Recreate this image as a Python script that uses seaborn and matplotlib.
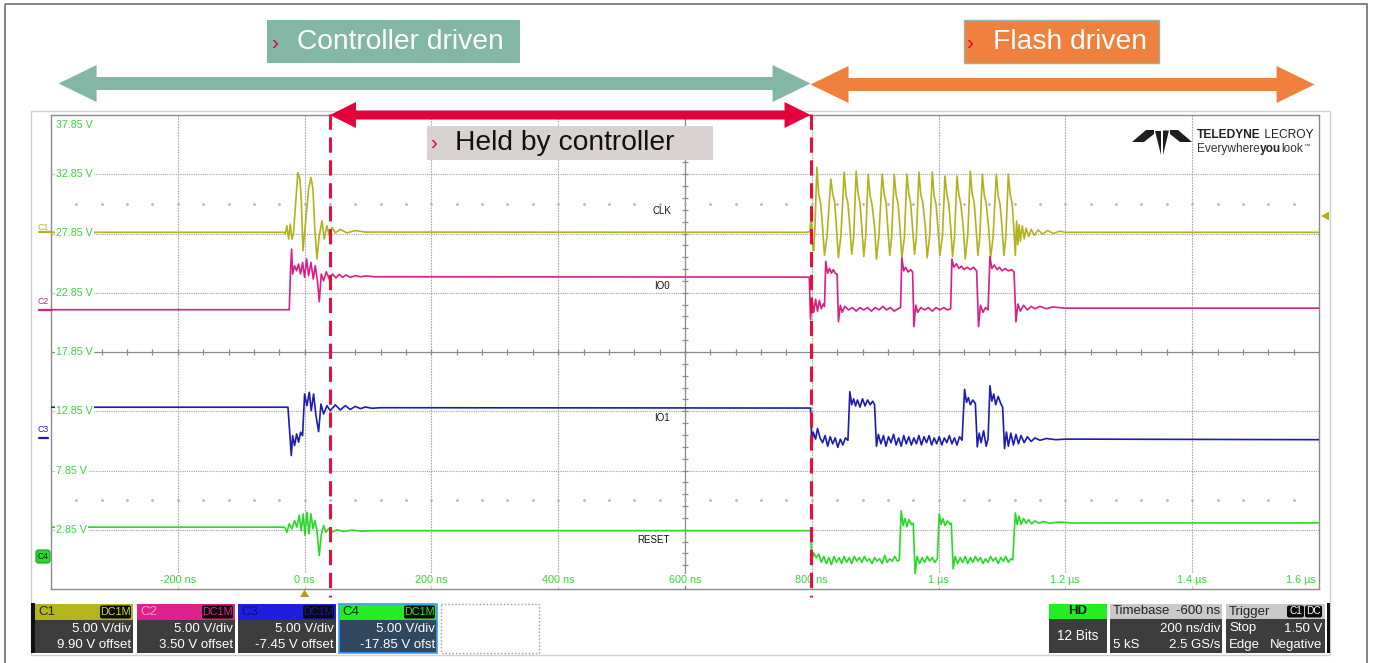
import numpy as np
import pandas as pd
import matplotlib
matplotlib.use("Agg")
import matplotlib.pyplot as plt
import seaborn as sns
from matplotlib.patches import Rectangle, Polygon, FancyBboxPatch

# ------------------------------------------------------------------ data
signals = ["CLK", "IO0", "IO1", "RESET"]
colors = {"CLK": "#b2b21e", "IO0": "#d81f86", "IO1": "#1c1cb0", "RESET": "#2ad82a"}

clk_pts = [(-400, 27.95), (-31, 27.95), (-30.5, 27.8), (-27.9, 28.5), (-25.3, 27.38), (-22.6, 28.64),
           (-20, 27.38), (-17.4, 27.94), (-13.7, 30.75), (-10.5, 33.0), (-7.4, 32.44), (-5.3, 30.75),
           (-2.6, 26.39), (1, 28.5), (6.3, 31.6), (10, 32.58), (13.2, 31.6), (15.8, 28.5), (19.5, 25.69),
           (23.1, 27.66), (27.4, 28.92), (31, 27.38), (35.3, 28.5), (39, 27.66), (43.2, 28.36), (48.4, 27.9),
           (56.3, 28.2), (66.8, 27.9), (80, 28.1), (95.8, 27.97), (790, 27.95), (797, 28.0), (799, 29.6),
           (801, 27.0), (803, 26.4), (805, 28.4), (808, 33.45),
           (811, 31.1), (814, 30.4), (817, 28.4), (820, 26.0), (824, 27.6), (830, 32.44),
           (833, 31.2), (836, 30.5), (839, 28.3), (842, 25.8), (846, 27.7), (851, 33.03),
           (854, 31.1), (857, 30.4), (860, 28.4), (863, 26.1), (866, 27.5), (870, 33.11),
           (873, 31.2), (876, 30.4), (879, 28.3), (882, 25.9), (885, 27.6), (889, 32.86),
           (892, 31.0), (895, 30.3), (899, 28.4), (902, 25.7), (906, 27.7), (911, 32.86),
           (914, 31.2), (917, 30.5), (920, 28.3), (923, 26.0), (926, 27.6), (930, 32.86),
           (933, 31.1), (936, 30.4), (939, 28.4), (942, 25.8), (946, 27.5), (950, 32.86),
           (953, 31.2), (956, 30.4), (959, 28.3), (962, 26.1), (965, 27.6), (969, 33.03),
           (972, 31.1), (975, 30.5), (979, 28.4), (982, 25.8), (986, 27.7), (990, 33.03),
           (993, 31.0), (996, 30.3), (999, 28.3), (1002, 26.0), (1006, 27.6), (1010, 32.70),
           (1013, 31.2), (1016, 30.4), (1019, 28.4), (1022, 25.9), (1025, 27.5), (1029, 32.70),
           (1032, 31.1), (1035, 30.4), (1039, 28.3), (1042, 25.7), (1046, 27.7), (1050, 33.11),
           (1053, 31.2), (1056, 30.5), (1059, 28.4), (1062, 26.0), (1065, 27.6), (1069, 32.86),
           (1072, 31.1), (1075, 30.4), (1079, 28.3), (1082, 25.8), (1086, 27.6), (1091, 32.86),
           (1094, 31.0), (1097, 30.3), (1100, 28.4), (1103, 26.0), (1106, 27.5), (1110, 32.86),
           (1113, 31.1), (1116, 30.4), (1119, 28.0), (1121, 26.0), (1123, 28.9), (1125, 26.9),
           (1127, 28.6), (1129, 27.2), (1132, 28.5), (1135, 27.4), (1138, 28.3), (1142, 27.6),
           (1146, 28.2), (1151, 27.7), (1157, 28.15), (1164, 27.8), (1172, 28.1), (1181, 27.85),
           (1191, 28.05), (1200, 27.95), (1600, 27.95)]

io0_pts = [(-400, 21.42), (-24.2, 21.42), (-22.1, 24.85), (-20.5, 26.53), (-18.9, 24.43), (-15.8, 25.13),
           (-12.6, 24.71), (-9.5, 25.27), (-6.3, 24.43), (-3.2, 25.41), (0, 24.15), (3.2, 25.69), (6.3, 24.28),
           (10, 25.41), (13.7, 24.0), (16.8, 25.13), (20.5, 23.73), (23.1, 22.09), (26.3, 24.43), (30, 23.86),
           (34.2, 24.62), (39, 24.0), (44.2, 24.43), (49.4, 24.1), (54.7, 24.4), (60, 24.15), (65.2, 24.35),
           (72, 24.15), (80, 24.3), (88, 24.2), (98, 24.27), (110, 24.2), (790, 24.17),
           (796, 24.17), (798, 20.6), (800, 22.4), (803, 21.2), (806, 22.3), (809, 21.3), (812, 22.2),
           (815, 21.5), (818, 21.9), (820, 21.7), (822, 25.5), (825, 24.5), (828, 24.9), (831, 24.5),
           (834, 24.8), (837, 24.5), (840, 24.4), (842, 20.4), (845, 21.8), (848, 21.2), (852, 21.7),
           (858, 21.4), (864, 21.6), (870, 21.3), (876, 21.6), (882, 21.4), (888, 21.6), (894, 21.3),
           (900, 21.6), (906, 21.4), (912, 21.7), (918, 21.4), (924, 21.6), (930, 21.3), (936, 21.5),
           (940, 21.6), (942, 25.8), (945, 24.7), (948, 25.0), (952, 24.6), (956, 24.8), (959, 24.6),
           (961, 20.0), (964, 21.8), (967, 21.2), (972, 21.6), (978, 21.4), (984, 21.6), (990, 21.3),
           (996, 21.6), (1002, 21.4), (1008, 21.6), (1014, 21.4), (1019, 21.5), (1021, 25.7), (1024, 25.0),
           (1028, 25.3), (1032, 24.9), (1036, 25.1), (1040, 24.8), (1045, 25.0), (1050, 24.8), (1055, 25.0),
           (1060, 24.7), (1063, 20.0), (1066, 21.8), (1070, 21.2), (1074, 21.6), (1078, 21.4), (1081, 25.9),
           (1084, 24.9), (1088, 25.2), (1092, 24.8), (1096, 25.0), (1100, 24.7), (1105, 24.9), (1110, 24.7),
           (1115, 24.8), (1119, 24.6), (1122, 20.4), (1125, 21.9), (1129, 21.3), (1134, 21.8), (1140, 21.4),
           (1146, 21.7), (1152, 21.5), (1160, 21.7), (1170, 21.5), (1180, 21.65), (1200, 21.55), (1600, 21.55)]

io1_pts = [(-400, 13.19), (-26.3, 13.19), (-24.2, 11.64), (-21, 9.11), (-18.9, 10.79), (-15.8, 9.95),
           (-12.6, 10.94), (-9.5, 10.24), (-6.3, 11.08), (-3.2, 10.79), (0, 14.31), (3.7, 13.32), (7.4, 14.45),
           (10.5, 12.9), (14.2, 14.31), (17.9, 12.48), (22.1, 11.13), (25.8, 13.46), (30, 12.62), (35.3, 13.32),
           (40.5, 12.9), (48.4, 13.39), (56.3, 12.96), (64.2, 13.32), (72, 13.0), (80, 13.26), (88, 13.07),
           (96, 13.21), (106, 13.1), (120, 13.15), (790, 13.12),
           (798, 13.12), (800, 9.9), (802, 11.1), (806, 10.5), (809, 11.4), (813, 10.6), (817, 10.2),
           (821, 10.8), (825, 9.9), (829, 10.7), (833, 10.1), (837, 10.6), (841, 9.8), (845, 10.5),
           (849, 10.0), (853, 10.6), (857, 10.4), (860, 14.5), (863, 13.4), (866, 13.9), (869, 13.3),
           (872, 13.8), (876, 13.2), (880, 13.9), (884, 13.3), (888, 13.8), (892, 13.4), (896, 13.7),
           (899, 13.4), (902, 9.9), (905, 10.9), (909, 10.1), (913, 10.8), (917, 9.9), (921, 10.7),
           (925, 10.2), (929, 10.9), (933, 10.0), (937, 10.6), (941, 9.9), (945, 10.8), (949, 10.1),
           (953, 10.7), (957, 10.0), (961, 10.6), (965, 10.1), (969, 10.8), (973, 10.0), (977, 10.7),
           (981, 10.2), (985, 10.8), (989, 10.0), (993, 10.6), (997, 10.1), (1001, 10.7), (1005, 10.0),
           (1009, 10.6), (1013, 10.2), (1017, 10.8), (1021, 10.1), (1025, 10.6), (1029, 10.0), (1033, 10.7),
           (1037, 10.4), (1041, 14.7), (1044, 13.6), (1047, 14.0), (1050, 13.4), (1054, 13.8), (1058, 13.5),
           (1061, 9.84), (1064, 11.0), (1067, 10.2), (1071, 11.2), (1075, 9.9), (1078, 10.5), (1081, 15.0),
           (1084, 13.7), (1087, 14.3), (1090, 13.4), (1094, 14.1), (1098, 13.5), (1101, 13.2), (1104, 9.7),
           (1107, 11.1), (1110, 9.9), (1114, 11.0), (1118, 10.0), (1122, 10.9), (1126, 10.1), (1130, 10.8),
           (1135, 10.2), (1140, 10.7), (1146, 10.3), (1152, 10.6), (1160, 10.4), (1170, 10.55), (1185, 10.45),
           (1200, 10.5), (1600, 10.45)]

reset_pts = [(-400, 3.07), (-31.6, 3.07), (-27.9, 2.65), (-24.2, 3.35), (-20, 2.93), (-15.8, 3.63),
             (-12.1, 3.07), (-8.4, 4.07), (-5.3, 2.77), (-2.1, 4.19), (0.5, 2.39), (3.7, 4.33), (6.8, 2.5),
             (10, 4.19), (13.2, 2.93), (16.3, 3.63), (19.5, 2.77), (23.1, 0.67), (26.3, 2.39), (30, 3.21),
             (33.7, 2.65), (37.9, 2.93), (43.2, 2.65), (51, 2.85), (61.5, 2.7), (74.7, 2.82), (90.5, 2.73),
             (105, 2.77), (790, 2.77),
             (798, 2.77), (800, 0.15), (803, 0.9), (807, 0.5), (811, 0.8), (815, 0.1), (819, 0.6), (823, 0.0),
             (827, 0.5), (831, -0.1), (835, 0.6), (839, 0.1), (843, 0.5), (847, 0.0), (851, 0.6), (855, 0.1),
             (859, 0.5), (863, 0.0), (867, 0.6), (871, 0.2), (875, 0.5), (879, 0.1), (883, 0.6), (887, 0.2),
             (891, 0.4), (895, 0.0), (899, 0.5), (903, 0.2), (907, 0.4), (911, 0.0), (915, 0.7), (919, 0.1),
             (923, 0.4), (927, 0.2), (931, 0.6), (935, 0.2), (938, 0.3), (941, 4.45), (944, 3.2), (947, 3.8),
             (950, 3.1), (953, 3.7), (957, 3.3), (960, 3.4), (963, -0.85), (966, 0.6), (970, 0.0), (974, 0.5),
             (978, 0.1), (982, 0.6), (986, 0.2), (990, 0.5), (994, 0.1), (998, 0.4), (1001, 4.2), (1004, 3.3),
             (1007, 3.8), (1010, 3.2), (1014, 3.6), (1018, 3.3), (1020, 3.4), (1023, -0.45), (1026, 0.6),
             (1030, 0.0), (1034, 0.5), (1038, 0.1), (1042, 0.6), (1046, 0.0), (1050, 0.5), (1054, 0.1),
             (1058, 0.6), (1062, 0.2), (1066, 0.5), (1070, 0.0), (1074, 0.4), (1078, 0.1), (1082, 0.6),
             (1086, 0.2), (1090, 0.5), (1094, 0.0), (1098, 0.5), (1102, 0.2), (1106, 0.6), (1110, 0.1),
             (1114, 0.4), (1117, 0.3), (1121, 4.27), (1124, 3.3), (1127, 4.0), (1130, 3.3), (1134, 3.8),
             (1138, 3.4), (1142, 3.7), (1147, 3.35), (1152, 3.6), (1158, 3.4), (1165, 3.55), (1175, 3.4),
             (1190, 3.5), (1210, 3.42), (1600, 3.43)]

# trace label positions (ns, V)
trace_labels = {"CLK": (563, 29.74), "IO0": (563, 23.41), "IO1": (563, 12.29), "RESET": (551, 2.0)}

x_ticks_ns = [-200, 0, 200, 400, 600, 800, 1000, 1200, 1400, 1600]
x_tick_labels = ["-200 ns", "0 ns", "200 ns", "400 ns", "600 ns", "800 ns", "1 µs", "1.2 µs", "1.4 µs", "1.6 µs"]
y_ticks_v = [37.85, 32.85, 27.85, 22.85, 17.85, 12.85, 7.85, 2.85]
x_range = (-400, 1600)
y_range = (-2.15, 37.85)
phase_ns = [40, 798]          # held-by-controller start, flash takes over

ch_names = ["C1", "C2", "C3", "C4"]
ch_scale = ["5.00 V/div"] * 4
ch_offset = ["9.90 V offset", "3.50 V offset", "-7.45 V offset", "-17.85 V ofst"]

# ------------------------------------------------------------------ figure
sns.set_theme(style="white")
plt.rcParams['font.family'] = ['Liberation Sans', 'DejaVu Sans']

W, H = 1373, 663
fig = plt.figure(figsize=(W / 100, H / 100), dpi=100, facecolor="white")
ax = fig.add_axes([51 / W, (H - 589) / H, 1268 / W, 474 / H])
ax.set_facecolor("white")

frames = []
for name, pts in zip(signals, [clk_pts, io0_pts, io1_pts, reset_pts]):
    t, v = zip(*pts)
    frames.append(pd.DataFrame({"t": t, "v": v, "signal": name}))
df = pd.concat(frames, ignore_index=True)

sns.lineplot(data=df, x="t", y="v", hue="signal", palette=colors, sort=False,
             estimator=None, legend=False, lw=1.2, ax=ax, zorder=3)

ax.set_xlim(*x_range)
ax.set_ylim(*y_range)
ax.set_xticks([])
ax.set_yticks([])
ax.set_xlabel("")
ax.set_ylabel("")
for s in ax.spines.values():
    s.set_color("#8a8a8a")
    s.set_linewidth(1.0)

# graticule
for xv in x_ticks_ns[:-1]:
    if xv == 600:
        continue
    ax.axvline(xv, color="#a9a9a9", lw=0.8, ls=(0, (1.5, 1)), zorder=1)
for yv in y_ticks_v[1:]:
    if yv == 17.85:
        continue
    ax.axhline(yv, color="#a0a0a0", lw=0.8, ls=(0, (1, 1)), zorder=1)
ax.axvline(600, color="#8a8a8a", lw=0.9, zorder=1)
ax.axhline(17.85, color="#8a8a8a", lw=0.9, zorder=1)
ax.plot(np.arange(-400, 1601, 40), np.full(51, 17.85), ls="none", marker="|", ms=5, mew=0.9,
        color="#8a8a8a", zorder=1)
ax.plot(np.full(41, 600), np.arange(-2.15, 37.86, 1.0), ls="none", marker="_", ms=5, mew=0.9,
        color="#8a8a8a", zorder=1)
for yv in [30.35, 5.35]:
    ax.plot(np.arange(-360, 1600, 40), np.full(49, yv), ls="none", marker="o", ms=1.0,
            color="#b5b5b5", zorder=1)

for name, (tx, ty) in trace_labels.items():
    ax.text(tx, ty, name, fontsize=7, color="#111111", ha="center", va="center", zorder=4)

# ------------------------------------------------------------------ overlay (pixel coords)
ov = fig.add_axes([0, 0, 1, 1])
ov.set_xlim(0, W)
ov.set_ylim(H, 0)
ov.axis("off")
ov.set_zorder(5)
ov.patch.set_alpha(0)


def px(t):
    return ax.transData.transform((t, 0))[0]


def py(v):
    return H - ax.transData.transform((0, v))[1]


GREEN = "#3cd23c"
# page border and scope frame
ov.add_patch(Rectangle((5, 4), 1362, 700, fc="none", ec="#7a7a7a", lw=1.3, zorder=0))
ov.add_patch(Rectangle((31, 111), 1299, 544, fc="none", ec="#cfcfcf", lw=1.0, zorder=0))

# y labels
for i, v in enumerate(y_ticks_v):
    yy = py(v) + (10 if i == 0 else 0)
    ov.text(56, yy, f"{v:.2f} V", color=GREEN, fontsize=7.7, ha="left", va="center",
            bbox=dict(fc="white", ec="none", pad=0.6), zorder=2)
# x labels
for t, lab in zip(x_ticks_ns, x_tick_labels):
    xx = px(t)
    ha = "center"
    if t == 1600:
        xx -= 3
        ha = "right"
    ov.text(xx, 580, lab, color=GREEN, fontsize=7.8, ha=ha, va="center",
            bbox=dict(fc="white", ec="none", pad=0.6), zorder=2)

# channel markers
ov.text(43, 227, "C1", color=colors["CLK"], fontsize=6.3, ha="center", va="center")
ov.plot([39, 52], [py(27.95)] * 2, color=colors["CLK"], lw=1.6)
ov.text(43, 302, "C2", color=colors["IO0"], fontsize=6.3, ha="center", va="center")
ov.plot([39, 52], [py(21.42)] * 2, color=colors["IO0"], lw=1.6)
ov.text(43, 430, "C3", color=colors["IO1"], fontsize=6.3, ha="center", va="center")
ov.plot([39, 48], [438, 438], color=colors["IO1"], lw=1.6)
ov.add_patch(FancyBboxPatch((36, 550), 14, 13, boxstyle="round,pad=0,rounding_size=2.5",
                            fc="#2ad82a", ec="#1a9a1a", lw=0.8))
ov.text(43, 556.5, "C4", color="#0a2a0a", fontsize=6.2, ha="center", va="center")
# trigger markers
ov.add_patch(Polygon([(1321, 216), (1329, 211.5), (1329, 220.5)], fc="#b2b21e", ec="none"))
x0 = px(0)
ov.add_patch(Polygon([(x0, 589.5), (x0 - 4.5, 597), (x0 + 4.5, 597)], fc="#b59c1c", ec="none"))


# arrows
def darrow(xa, xb, yc, sh, hh, hl, color):
    pts = [(xa, yc), (xa + hl, yc - hh), (xa + hl, yc - sh), (xb - hl, yc - sh), (xb - hl, yc - hh),
           (xb, yc), (xb - hl, yc + hh), (xb - hl, yc + sh), (xa + hl, yc + sh), (xa + hl, yc + hh)]
    ov.add_patch(Polygon(pts, closed=True, fc=color, ec="none", zorder=7))


TEAL, ORANGE, RED = "#82b7a6", "#f0813d", "#e4003a"
darrow(px(-388), px(phase_ns[1]), 83.5, 6.5, 18.5, 38, TEAL)
darrow(px(phase_ns[1]), px(1593), 84.5, 6.5, 18.5, 38, ORANGE)
darrow(px(phase_ns[0]), px(phase_ns[1]), 115, 4.5, 13, 26, RED)

# dashed phase lines
for t in phase_ns:
    ov.plot([px(t)] * 2, [114, 597], color="#e8103a", lw=2.2, ls=(0, (5, 2.5)), zorder=8)

# label boxes
ov.add_patch(Rectangle((267, 20), 253, 43, fc=TEAL, ec="none", zorder=7))
ov.text(271, 43, "›", color=RED, fontsize=15, ha="left", va="center", zorder=8)
ov.text(297, 42, "Controller driven", color="white", fontsize=20.3, ha="left", va="center", zorder=8)
ov.add_patch(Rectangle((964, 20), 195, 43, fc=ORANGE, ec="#8fb5b0", lw=1.0, zorder=7))
ov.text(966, 43, "›", color=RED, fontsize=15, ha="left", va="center", zorder=8)
ov.text(993, 42, "Flash driven", color="white", fontsize=20.3, ha="left", va="center", zorder=8)
ov.add_patch(Rectangle((427, 126), 286, 34, fc="#d8d2d2", ec="none", zorder=7))
ov.text(430, 144, "›", color=RED, fontsize=15, ha="left", va="center", zorder=8)
ov.text(455, 143, "Held by controller", color="#111111", fontsize=20.3, ha="left", va="center", zorder=8)

# logo
lc = 1162
logo = [
    [(lc - 30, 142), (lc - 16, 130), (lc - 8, 130), (lc - 8, 134), (lc - 18, 142)],
    [(lc - 7, 130.5), (lc - 1, 130.5), (lc - 1, 155)],
    [(lc + 1, 130.5), (lc + 7, 130.5), (lc + 1, 155)],
    [(lc + 30, 142), (lc + 16, 130), (lc + 8, 130), (lc + 8, 134), (lc + 18, 142)],
]
for poly in logo:
    ov.add_patch(Polygon(poly, closed=True, fc="#1e1e1e", ec="none"))
r = fig.canvas.get_renderer()


def chain(x, y, parts, target_w):
    made = []
    xs = x
    for s, kw in parts:
        tt = ov.text(xs, y, s, ha="left", va="center", **kw)
        made.append(tt)
        xs = tt.get_window_extent(renderer=r).x1
    scale = target_w / (xs - x)
    xs = x
    for tt in made:
        tt.set_fontsize(tt.get_fontsize() * scale)
        tt.set_x(xs)
        xs = tt.get_window_extent(renderer=r).x1
    return xs


chain(1197, 135.5, [("TELEDYNE", dict(fontsize=10, fontweight="bold", color="#222222")),
                    (" LECROY", dict(fontsize=10, color="#222222"))], 116)
xe = chain(1197, 149, [("Everywhere", dict(fontsize=9, color="#333333")),
                       ("you", dict(fontsize=9, fontweight="bold", color="#222222")),
                       ("look", dict(fontsize=9, color="#333333"))], 106)
ov.text(xe + 0.5, 146, "™", fontsize=4.5, color="#333333", ha="left", va="center")

# ------------------------------------------------------------------ status bar
ov.add_patch(Rectangle((31, 603), 3.5, 50, fc="#111111", ec="none"))
ov.add_patch(Rectangle((1326.5, 603), 3.5, 50, fc="#111111", ec="none"))
hdr_fc = ["#b4b41e", "#e0208a", "#1e1ee0", "#22ee22"]
hdr_tc = ["#2a2a00", "#ff9ad0", "#0c0c80", "#0a2a0a"]
dc_tc = ["#d8d820", "#e0208a", "#1414c0", "#22ee22"]
xs = [35, 137, 238, 339]
for i in range(4):
    x = xs[i]
    ov.add_patch(Rectangle((x, 604), 98, 16, fc=hdr_fc[i], ec="none"))
    body_fc = "#2f475f" if i == 3 else "#3d3d3d"
    ov.add_patch(Rectangle((x, 620), 98, 33, fc=body_fc, ec="none"))
    if i == 3:
        ov.add_patch(Rectangle((x, 604), 98, 49, fc="none", ec="#3a9cff", lw=1.2))
    ov.text(x + 3, 612, ch_names[i], color=hdr_tc[i], fontsize=9.5, ha="left", va="center")
    ov.add_patch(FancyBboxPatch((x + 65, 605.5), 31, 13, boxstyle="round,pad=0,rounding_size=2",
                                fc="#0a0a0a", ec="none"))
    ov.text(x + 80.5, 612, "DC1M", color=dc_tc[i], fontsize=7.8, ha="center", va="center")
    ov.text(x + 96, 629, ch_scale[i], color="white", fontsize=9.5, ha="right", va="center")
    ov.text(x + 96, 644.5, ch_offset[i], color="white", fontsize=9.5, ha="right", va="center")
ov.add_patch(Rectangle((441, 603.5), 98, 49.5, fc="none", ec="#9a9a9a", lw=1.0, ls=(0, (1, 1.5))))

# HD
ov.add_patch(Rectangle((1049, 604), 58, 15, fc="#22ee22", ec="none"))
ov.add_patch(Rectangle((1049, 619), 58, 34, fc="#3d3d3d", ec="none"))
ov.text(1078, 611.5, "HD", color="#111111", fontsize=9.5, fontweight="bold", ha="center", va="center")
ov.text(1078, 636, "12 Bits", color="white", fontsize=9.8, ha="center", va="center")
# Timebase
ov.add_patch(Rectangle((1110, 604), 112, 15, fc="#c9c9c9", ec="none"))
ov.add_patch(Rectangle((1110, 619), 112, 34, fc="#3d3d3d", ec="none"))
ov.text(1113, 611.5, "Timebase", color="#222222", fontsize=9.5, ha="left", va="center")
ov.text(1220, 611.5, "-600 ns", color="#222222", fontsize=9.5, ha="right", va="center")
ov.text(1220, 628.5, "200 ns/div", color="white", fontsize=9.5, ha="right", va="center")
ov.text(1113, 645, "5 kS", color="white", fontsize=9.5, ha="left", va="center")
ov.text(1220, 645, "2.5 GS/s", color="white", fontsize=9.5, ha="right", va="center")
# Trigger
ov.add_patch(Rectangle((1226, 604), 99, 15, fc="#c9c9c9", ec="none"))
ov.add_patch(Rectangle((1226, 619), 99, 34, fc="#3d3d3d", ec="none"))
ov.text(1229, 611.5, "Trigger", color="#222222", fontsize=9.5, ha="left", va="center")
for bx, s in [(1287, "C1"), (1305, "DC")]:
    ov.add_patch(FancyBboxPatch((bx, 605.5), 17, 12, boxstyle="round,pad=0,rounding_size=2",
                                fc="#0a0a0a", ec="none"))
    ov.text(bx + 8.5, 611.5, s, color="white", fontsize=7.3, ha="center", va="center")
ov.text(1229, 628.5, "Stop", color="white", fontsize=9.5, ha="left", va="center")
ov.text(1322, 628.5, "1.50 V", color="white", fontsize=9.5, ha="right", va="center")
ov.text(1229, 645, "Edge", color="white", fontsize=9.5, ha="left", va="center")
ov.text(1322, 645, "Negative", color="white", fontsize=9.5, ha="right", va="center")

fig.savefig("out.png", dpi=100, facecolor="white")
